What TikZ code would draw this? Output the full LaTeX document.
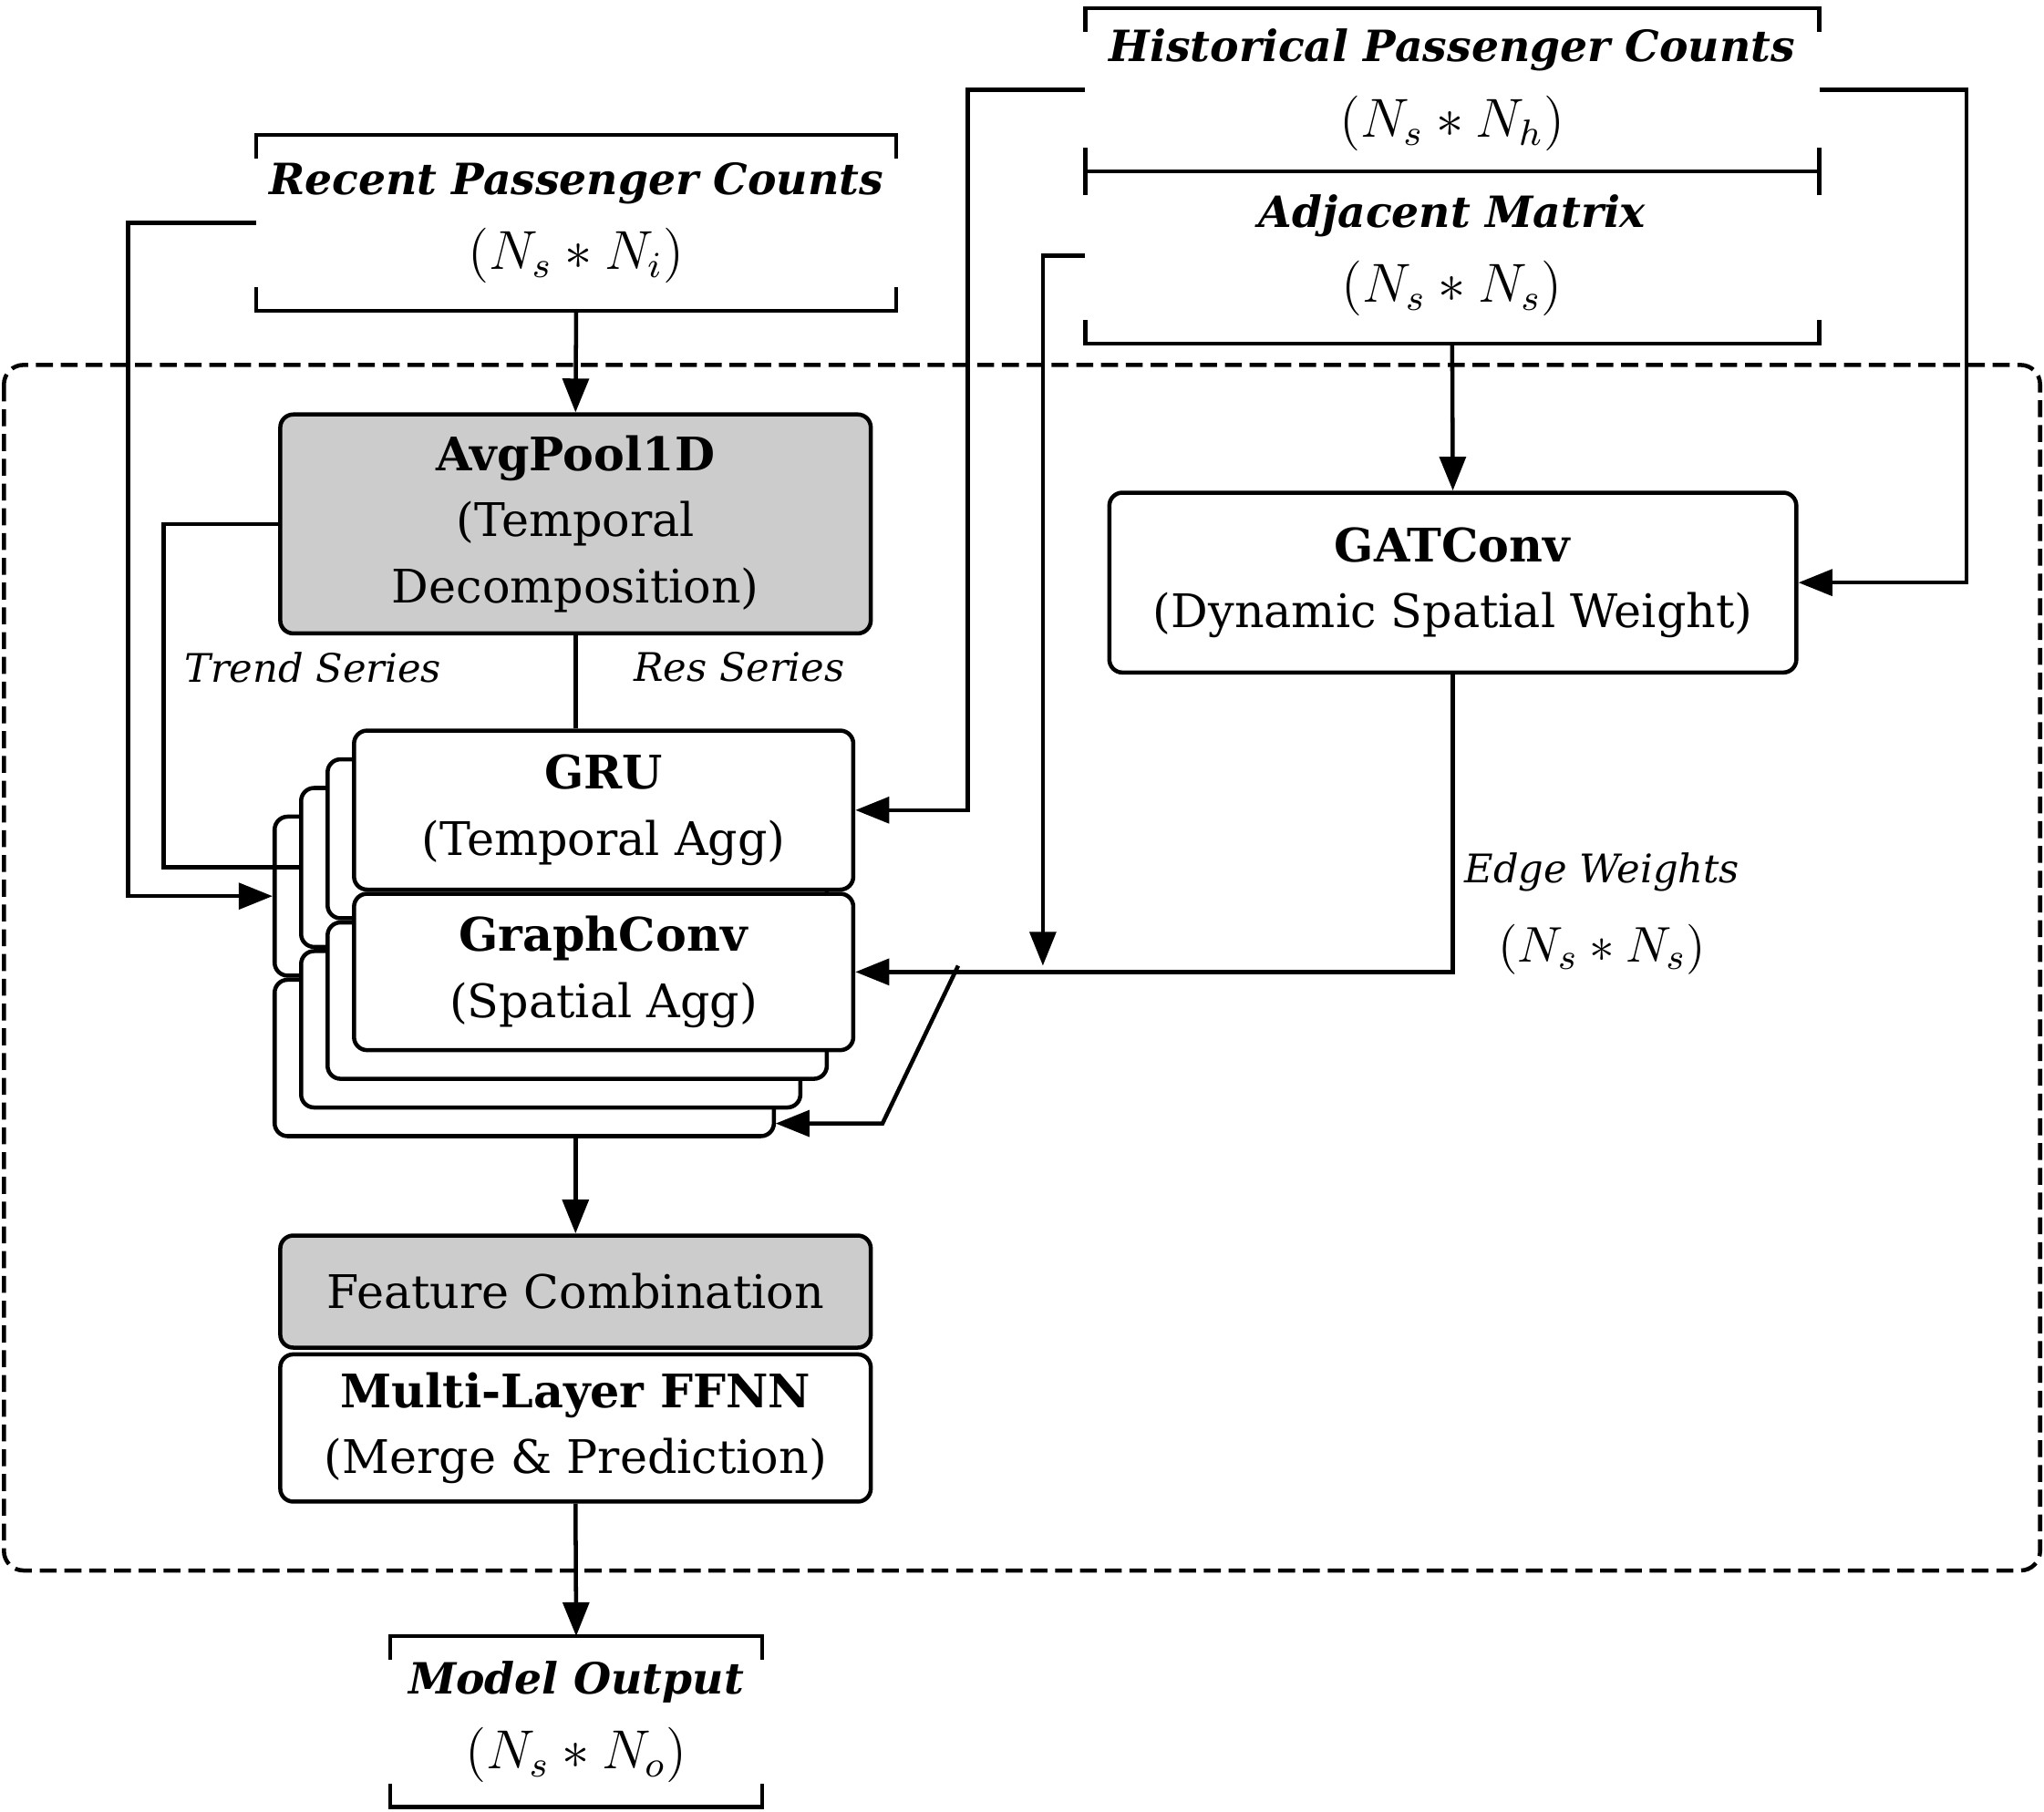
\documentclass[tikz,border=0pt]{standalone}
\usepackage{amsmath}
\usepackage{fontspec}
\setmainfont{DejaVu Serif}
\usetikzlibrary{arrows.meta,positioning}

\newcommand{\dimtxt}[1]{{\fontsize{12}{14}\selectfont$#1$}}

\begin{document}
\begin{tikzpicture}[
  font=\fontsize{10.1}{14.4}\selectfont,
  line width=0.9pt,
  box/.style={draw, rounded corners=1mm, fill=white, align=center,
              inner sep=2pt, minimum width=4.53cm},
  graybox/.style={box, fill=black!20},
  layer/.style={draw, rounded corners=1mm, fill=white, align=center,
              inner sep=0pt, minimum width=3.83cm},
  src/.style={align=center, inner sep=0pt},
  ttl/.style={font=\fontsize{9.4}{14.4}\selectfont\bfseries\itshape},
  ar/.style={-{Triangle[length=2.6mm,width=2mm]}},
  lbl/.style={font=\fontsize{8.6}{14.4}\selectfont\itshape, inner sep=1pt},
  frame/.style={draw, dash pattern=on 1.3mm off 0.6mm, rounded corners=1.5mm}
]
\useasboundingbox (0,0) rectangle (15.68,-13.90);

\draw[frame] (0.03,-2.80) rectangle (15.65,-12.05);

% inputs
\node[src, ttl, minimum width=4.88cm, minimum height=1.32cm] (rec) at (4.42,-1.71)
  {Recent Passenger Counts\\[2pt]\dimtxt{(N_s*N_i)}};
\node[src, ttl, minimum width=5.60cm, minimum height=1.22cm] (hist) at (11.14,-0.69)
  {Historical Passenger Counts\\[2pt]\dimtxt{(N_s*N_h)}};
\node[src, ttl, minimum width=5.60cm, minimum height=1.32cm] (adj) at (11.14,-1.96)
  {Adjacent Matrix\\[2pt]\dimtxt{(N_s*N_s)}};

\node[graybox, minimum height=1.68cm] (avg) at (4.415,-4.02)
  {\textbf{AvgPool1D}\\(Temporal\\Decomposition)};
\node[box, minimum width=5.27cm, minimum height=1.38cm] (gat) at (11.145,-4.47)
  {\textbf{GATConv}\\(Dynamic Spatial Weight)};

% stacked layers
\foreach \k in {3,2,1}{
  \node[layer, minimum height=1.22cm, anchor=north west] (up\k)
    at ({2.70-0.203*\k},{-5.59-0.22*\k}) {};
  \node[layer, minimum height=1.20cm, anchor=north] (dn\k) at (up\k.south) {};
}
\node[layer, minimum height=1.22cm, anchor=north west] (gru) at (2.70,-5.59)
  {\textbf{GRU}\\(Temporal Agg)};
\node[layer, minimum height=1.20cm, anchor=north] (gconv) at (gru.south)
  {\textbf{GraphConv}\\(Spatial Agg)};

\node[graybox, minimum height=0.86cm] (feat) at (4.415,-9.91) {Feature Combination};
\node[box, minimum height=1.13cm, below=0.02cm of feat] (ffnn)
  {\textbf{Multi-Layer FFNN}\\(Merge \& Prediction)};

\node[src, ttl, minimum width=2.82cm, minimum height=1.28cm] (out) at (4.42,-13.21)
  {Model Output\\[2pt]\dimtxt{(N_s*N_o)}};

% labels
\node[lbl] (trend) at (2.40,-5.12) {Trend Series};
\node[lbl] (res) at (5.67,-5.12) {Res Series};
\node[lbl, align=center] (ew) at (12.29,-7.01)
  {Edge Weights\\[3pt]{\fontsize{11}{13}\selectfont$(N_s*N_s)$}};

\coordinate (adjin) at (8.00,-7.41);
\coordinate (split) at (7.35,-7.41);
\coordinate (kink) at (6.77,-8.62);
\coordinate (l3in) at (5.95,-8.62);

% brackets
\draw ([yshift=-1.8mm]rec.north west) |- (rec.north east) -- ++(0,-0.18);
\draw ([yshift=1.8mm]rec.south west) |- (rec.south east) -- ++(0,0.18);
\draw ([yshift=-1.8mm]hist.north west) |- (hist.north east) -- ++(0,-0.18);
\draw ([yshift=1.8mm]hist.south west) -- ([yshift=-1.8mm]hist.south west)
      (hist.south west) -- (hist.south east)
      ([yshift=1.8mm]hist.south east) -- ([yshift=-1.8mm]hist.south east);
\draw ([yshift=1.8mm]adj.south west) |- (adj.south east) -- ++(0,0.18);
\draw ([yshift=-1.8mm]out.north west) |- (out.north east) -- ++(0,-0.18);
\draw ([yshift=1.8mm]out.south west) |- (out.south east) -- ++(0,0.18);

% connectors
\draw[ar] (rec.south) -- (avg.north);
\draw[ar] (rec.west) -- ++(-0.98,0) |- (up3.west);
\draw (avg.west) -- ++(-0.88,0) |- (up2.west);
\draw (avg.south) -- (avg.south |- gru.north);
\draw[ar] (hist.west) -- ++(-0.90,0) |- (gru.east);
\draw[ar] (hist.east) -- ++(1.13,0) |- (gat.east);
\draw[ar] (adj.west) -| (adjin);
\draw[ar] (adj.south) -- (gat.north);
\draw[ar] (gat.south) |- (gconv.east);
\draw[ar] (split) -- (kink) -- (l3in);
\draw[ar] (avg.south |- dn3.south) -- (feat.north);
\draw[ar] (ffnn.south) -- (out.north);
\end{tikzpicture}
\end{document}
